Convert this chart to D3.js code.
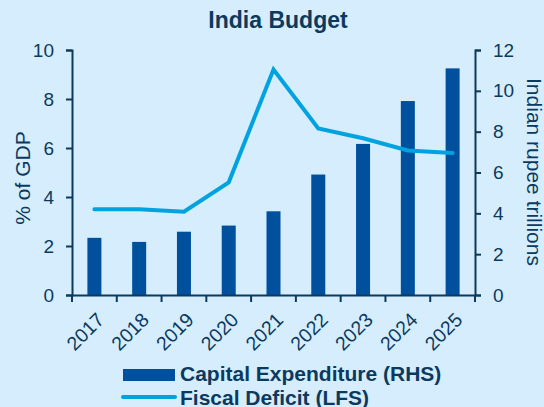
<!DOCTYPE html>
<html>
<head>
<meta charset="utf-8">
<script src="https://cdn.jsdelivr.net/npm/d3@7"></script>
<style>
  body { margin: 0; background: #d5edfc; }
  svg { display: block; font-family: "Liberation Sans", Arial, sans-serif; }
</style>
</head>
<body>
<svg width="544" height="407"></svg>
<script>
var years = ["2017", "2018", "2019", "2020", "2021", "2022", "2023", "2024", "2025"];
var capex = [2.8, 2.6, 3.1, 3.4, 4.1, 5.9, 7.4, 9.5, 11.1];
var deficit = [3.5, 3.5, 3.4, 4.6, 9.2, 6.8, 6.4, 5.9, 5.8];
var leftTicks = [0, 2, 4, 6, 8, 10];
var rightTicks = [0, 2, 4, 6, 8, 10, 12];

var navy = "#0c3a5f";
var barColor = "#00509e";
var lineColor = "#00a3e0";

var svg = d3.select("svg");
var plotLeft = 72, plotRight = 475, plotTop = 50, plotBottom = 295;

var xPts = d3.scaleBand().domain(years).range([plotLeft, plotRight]);
var yL = d3.scaleLinear().domain([0, 10]).range([plotBottom, plotTop]);
var yR = d3.scaleLinear().domain([0, 12]).range([plotBottom, plotTop]);

function mid(d) { return xPts(d) + xPts.bandwidth() / 2; }

svg.append("rect").attr("width", 544).attr("height", 407).attr("fill", "#d5edfc");

// title
svg.append("text")
    .attr("x", 278).attr("y", 28)
    .attr("text-anchor", "middle")
    .attr("font-size", 23).attr("font-weight", "bold")
    .attr("fill", navy)
    .text("India Budget");

// bars
svg.selectAll(".bar").data(years).enter().append("rect")
    .attr("class", "bar")
    .attr("x", function(d) { return mid(d) - 7; })
    .attr("width", 14)
    .attr("y", function(d, i) { return yR(capex[i]); })
    .attr("height", function(d, i) { return plotBottom - yR(capex[i]); })
    .attr("fill", barColor);

// line
var line = d3.line()
    .x(function(d, i) { return mid(years[i]); })
    .y(function(d) { return yL(d); });

svg.append("path")
    .datum(deficit)
    .attr("d", line)
    .attr("fill", "none")
    .attr("stroke", lineColor)
    .attr("stroke-width", 4)
    .attr("stroke-linecap", "round")
    .attr("stroke-linejoin", "miter");

function styleAxis(g) {
    g.selectAll("path").attr("stroke", navy).attr("stroke-width", 2);
    g.selectAll("line").attr("stroke", navy).attr("stroke-width", 2);
    g.selectAll("text").attr("fill", navy).attr("font-size", 19);
}

var gl = svg.append("g").attr("transform", "translate(" + plotLeft + ",0)")
    .call(d3.axisLeft(yL).tickValues(leftTicks).tickSize(6).tickSizeOuter(6).tickPadding(12));
styleAxis(gl);

var gr = svg.append("g").attr("transform", "translate(" + plotRight + ",0)")
    .call(d3.axisRight(yR).tickValues(rightTicks).tickSize(6).tickSizeOuter(6).tickPadding(12));
styleAxis(gr);

var gx = svg.append("g").attr("transform", "translate(0," + plotBottom + ")")
    .call(d3.axisBottom(xPts).tickSize(0).tickSizeOuter(0).tickFormat(""));
styleAxis(gx);

// band boundary ticks
var edges = years.map(function(d) { return xPts(d); }).concat([plotRight]);
svg.selectAll(".xtick").data(edges).enter().append("line")
    .attr("x1", function(d) { return d; })
    .attr("x2", function(d) { return d; })
    .attr("y1", plotBottom).attr("y2", plotBottom + 7)
    .attr("stroke", navy).attr("stroke-width", 2);

svg.selectAll(".xlab").data(years).enter().append("text")
    .attr("transform", function(d) {
        return "translate(" + (mid(d) + 11) + "," + (plotBottom + 26) + ") rotate(-45)";
    })
    .attr("text-anchor", "end")
    .attr("font-size", 19.5)
    .attr("fill", navy)
    .text(function(d) { return d; });

// axis titles
svg.append("text")
    .attr("transform", "translate(30,178) rotate(-90)")
    .attr("text-anchor", "middle")
    .attr("font-size", 21).attr("fill", navy)
    .text("% of GDP");

svg.append("text")
    .attr("transform", "translate(527,172) rotate(90)")
    .attr("text-anchor", "middle")
    .attr("font-size", 21).attr("fill", navy)
    .text("Indian rupee trillions");

// legend
svg.append("rect").attr("x", 123).attr("y", 369).attr("width", 52).attr("height", 12).attr("fill", barColor);
svg.append("text").attr("x", 180).attr("y", 381)
    .attr("font-size", 21).attr("font-weight", "bold").attr("fill", navy)
    .text("Capital Expenditure (RHS)");
svg.append("line").attr("x1", 123).attr("x2", 175).attr("y1", 397).attr("y2", 397)
    .attr("stroke", lineColor).attr("stroke-width", 4).attr("stroke-linecap", "round");
svg.append("text").attr("x", 180).attr("y", 405)
    .attr("font-size", 21).attr("font-weight", "bold").attr("fill", navy)
    .text("Fiscal Deficit (LFS)");
</script>
</body>
</html>
